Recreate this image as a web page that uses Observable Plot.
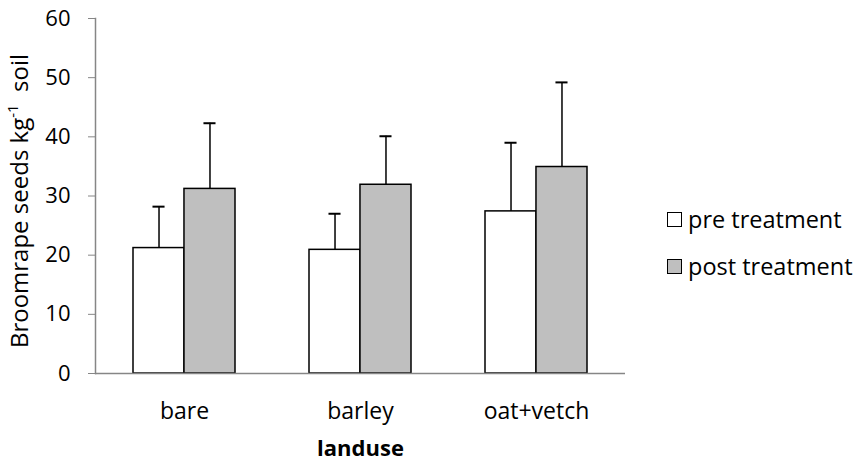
<!DOCTYPE html>
<html>
<head>
<meta charset="utf-8">
<script src="https://cdn.jsdelivr.net/npm/d3@7"></script>
<script src="https://cdn.jsdelivr.net/npm/@observablehq/plot@0.6"></script>
<style>
  body { margin: 0; background: #fff; font-family: "Open Sans", sans-serif; }
  #chart { position: relative; width: 856px; height: 464px; }
  .legend { position: absolute; left: 667px; top: 202px; font-size: 23.5px; color: #000; }
  .legend .row { display: flex; align-items: center; height: 34px; margin-bottom: 13px; }
  .legend .sw { width: 15px; height: 15px; box-sizing: border-box; border: 1px solid #000; margin-right: 6px; }
</style>
</head>
<body>
<div id="chart"></div>
<script>
// Broomrape seed bank by land use, before and after treatment (mean + upper error)
const landuse = ["bare", "barley", "oat+vetch"];
const series = ["pre treatment", "post treatment"];
const preMean = [21.2, 20.9, 27.4];
const preErr = [7.0, 6.1, 11.6];
const postMean = [31.2, 31.9, 34.9];
const postErr = [11.1, 8.2, 14.3];
const yTicks = [0, 10, 20, 30, 40, 50, 60];
const fills = ["#ffffff", "#bfbfbf"];

const rows = landuse.flatMap((l, i) => [
  {landuse: l, series: series[0], mean: preMean[i], top: preMean[i] + preErr[i]},
  {landuse: l, series: series[1], mean: postMean[i], top: postMean[i] + postErr[i]}
]);
const pre = rows.filter(d => d.series === series[0]);
const post = rows.filter(d => d.series === series[1]);

const W = 856, H = 464, mL = 95, mR = 231, mT = 18, mB = 91;
const padIn = 0.423, padOut = padIn / 2;
// band geometry, so the two bars of a group sit side by side inside one band
const step = (W - mL - mR) / (landuse.length - padIn + 2 * padOut);
const bw = step * (1 - padIn);
const half = bw / 2;
const cap = 12;

const plot = Plot.plot({
  width: W, height: H,
  marginLeft: mL, marginRight: mR, marginTop: mT, marginBottom: mB,
  style: {fontFamily: "Open Sans", fontSize: "22px", color: "#000", background: "white"},
  x: {domain: landuse, paddingInner: padIn, paddingOuter: padOut, axis: null},
  y: {domain: [0, 60], axis: null},
  marks: [
    Plot.axisY({ticks: yTicks, tickSize: 7, tickPadding: 18, stroke: "#868686", label: null, fontSize: 22}),
    Plot.axisX({tickSize: 0, tickPadding: 29, label: null, fontSize: 23}),
    Plot.frame({anchor: "left", stroke: "#868686", strokeWidth: 1.5}),
    // error bars (upper only)
    Plot.ruleX(pre, {x: "landuse", y1: "mean", y2: "top", dx: -half / 2, stroke: "#000", strokeWidth: 1.5}),
    Plot.ruleX(post, {x: "landuse", y1: "mean", y2: "top", dx: half / 2, stroke: "#000", strokeWidth: 1.5}),
    Plot.tickY(pre, {x: "landuse", y: "top", insetLeft: half / 2 - cap / 2, insetRight: bw - half / 2 - cap / 2, stroke: "#000", strokeWidth: 2}),
    Plot.tickY(post, {x: "landuse", y: "top", insetLeft: bw - half / 2 - cap / 2, insetRight: half / 2 - cap / 2, stroke: "#000", strokeWidth: 2}),
    // bars
    Plot.barY(pre, {x: "landuse", y: "mean", insetRight: half, fill: fills[0], stroke: "#000", strokeWidth: 1.5}),
    Plot.barY(post, {x: "landuse", y: "mean", insetLeft: half, fill: fills[1], stroke: "#000", strokeWidth: 1.5}),
    Plot.ruleY([0], {stroke: "#868686", strokeWidth: 1.5}),
    Plot.text(["landuse"], {frameAnchor: "bottom", dy: 82, fontWeight: "bold", fontSize: 22})
  ]
});

// y axis title with a superscript exponent
const svg = d3.select(plot);
const yTitle = svg.append("text")
  .attr("transform", `translate(28,201) rotate(-90)`)
  .attr("text-anchor", "middle")
  .attr("font-family", "Open Sans")
  .attr("font-size", 24)
  .attr("fill", "#000");
yTitle.append("tspan").text("Broomrape seeds kg");
yTitle.append("tspan").attr("font-size", 15).attr("dy", "-0.7em").text("-1");
yTitle.append("tspan").attr("dy", "0.44em").attr("xml:space", "preserve").text("\u00a0 soil");

const chart = document.getElementById("chart");
chart.appendChild(plot);

// legend
const legend = document.createElement("div");
legend.className = "legend";
series.forEach((s, i) => {
  const row = document.createElement("div");
  row.className = "row";
  const sw = document.createElement("span");
  sw.className = "sw";
  sw.style.background = fills[i];
  const label = document.createElement("span");
  label.textContent = s;
  row.appendChild(sw);
  row.appendChild(label);
  legend.appendChild(row);
});
chart.appendChild(legend);
</script>
</body>
</html>
